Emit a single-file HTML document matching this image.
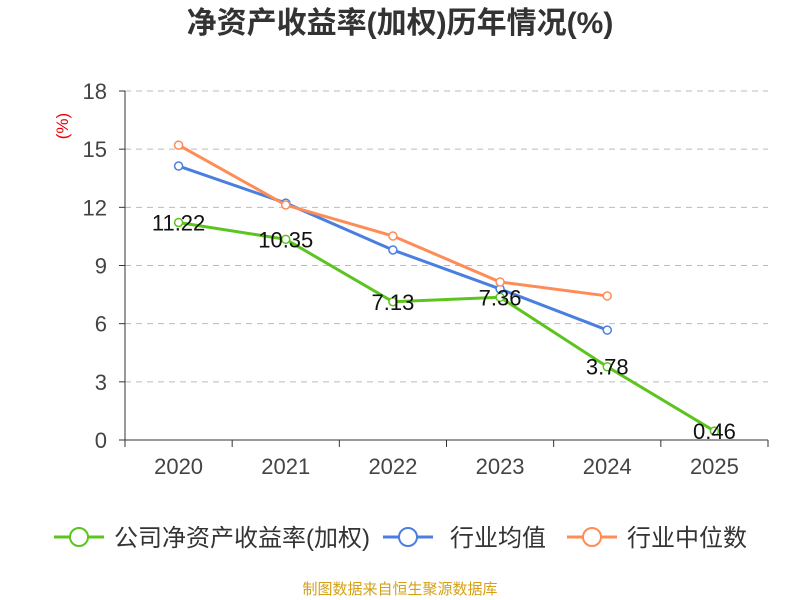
<!DOCTYPE html>
<html><head><meta charset="utf-8"><style>
body{margin:0;background:#fff;}
svg{display:block;font-family:"Liberation Sans","Noto Sans CJK SC",sans-serif;}
</style></head><body>
<svg id="c" width="800" height="600">
<text x="400" y="33" text-anchor="middle" font-size="30" font-weight="bold" fill="#333">净资产收益率(加权)历年情况(%)</text>
<text x="68" y="126" text-anchor="middle" font-size="17" fill="#e00" transform="rotate(-90 68 126)">(%)</text>
<g id="grid"></g><g id="axes"></g><g id="series"></g><g id="labels"></g>
<g>
 <g><line x1="54" y1="537" x2="104" y2="537" stroke="#5bc41e" stroke-width="3"/><circle cx="79" cy="537" r="9" fill="#fff" stroke="#5bc41e" stroke-width="2"/><text x="114" y="546" font-size="24" fill="#333">公司净资产收益率(加权)</text></g>
 <g><line x1="383" y1="537" x2="433" y2="537" stroke="#4a7fe0" stroke-width="3"/><circle cx="408" cy="537" r="9" fill="#fff" stroke="#4a7fe0" stroke-width="2"/><text x="450" y="546" font-size="24" fill="#333">行业均值</text></g>
 <g><line x1="567" y1="537" x2="617" y2="537" stroke="#ff8c55" stroke-width="3"/><circle cx="592" cy="537" r="9" fill="#fff" stroke="#ff8c55" stroke-width="2"/><text x="627" y="546" font-size="24" fill="#333">行业中位数</text></g>
</g>
<text x="400" y="594" text-anchor="middle" font-size="15" fill="#d4a017">制图数据来自恒生聚源数据库</text>
</svg>
<script>
const categories=["2020","2021","2022","2023","2024","2025"];
const company=[11.22,10.35,7.13,7.36,3.78,0.46];
const industryAvg=[14.13,12.22,9.8,7.79,5.67];
const industryMedian=[15.21,12.12,10.52,8.15,7.43];
const yTicks=[0,3,6,9,12,15,18];
const NS="http://www.w3.org/2000/svg";
const x0=125,x1=768,yB=440,yT=91,yMax=18;
const bw=(x1-x0)/categories.length;
const X=i=>x0+bw*(i+0.5);
const Y=v=>yB-(v/yMax)*(yB-yT);
function mk(p,tag,at){const e=document.createElementNS(NS,tag);for(const k in at)e.setAttribute(k,at[k]);document.getElementById(p).appendChild(e);return e;}
yTicks.forEach(t=>{
 if(t>0){const g=mk("grid","line",{x1:x0,x2:x1,y1:Y(t),y2:Y(t),stroke:"#bbb","stroke-dasharray":"6,5"});
 
 }
 const tk=mk("axes","line",{x1:x0-6,x2:x0,y1:Y(t),y2:Y(t),stroke:"#333"});
 
 
 const l=mk("axes","text",{x:x0-18,y:Y(t)+8,"text-anchor":"end","font-size":"22",fill:"#444"});l.textContent=t;
 
 
});
const ya=mk("axes","line",{x1:x0,x2:x0,y1:yT,y2:yB,stroke:"#333"});


const xa=mk("axes","line",{x1:x0,x2:x1,y1:yB,y2:yB,stroke:"#333"});


for(let i=0;i<=categories.length;i++){const t=mk("axes","line",{x1:x0+bw*i,x2:x0+bw*i,y1:yB,y2:yB+7,stroke:"#333"});
 
 }
categories.forEach((c,i)=>{const l=mk("axes","text",{x:X(i),y:474,"text-anchor":"middle","font-size":"22",fill:"#444"});l.textContent=c;
 
 });
function series(data,color,name){
 const p=mk("series","polyline",{points:data.map((v,i)=>X(i)+","+Y(v)).join(" "),fill:"none",stroke:color,"stroke-width":3});
 
 
 data.forEach((v,i)=>{const c=mk("series","circle",{cx:X(i),cy:Y(v),r:4,fill:"#fff",stroke:color,"stroke-width":1.5});
  
  });
}
series(industryAvg,"#4a7fe0","industry-avg");
series(industryMedian,"#ff8c55","industry-median");
series(company,"#5bc41e","company");
company.forEach((v,i)=>{const l=mk("labels","text",{x:X(i),y:Y(v)+8,"text-anchor":"middle","font-size":"22",fill:"#111"});l.textContent=v.toFixed(2);
 
 });
</script>
</body></html>
